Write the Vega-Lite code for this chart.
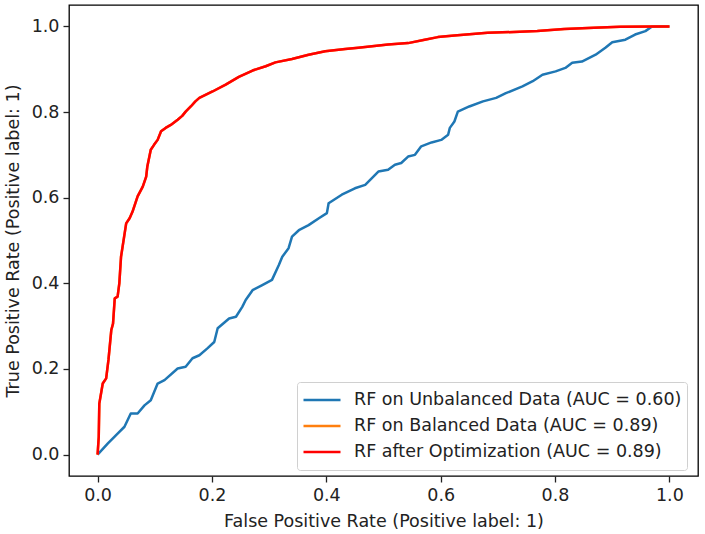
{
  "$schema": "https://vega.github.io/schema/vega-lite/v6.json",
  "width": 629,
  "height": 471,
  "autosize": {"type": "none"},
  "padding": {"left": 69, "top": 5, "right": 7, "bottom": 58},
  "background": "white",
  "config": {
    "font": "DejaVu Sans",
    "view": {"stroke": "black", "strokeWidth": 1.3},
    "axis": {
      "grid": false,
      "domain": false,
      "tickColor": "#222",
      "tickSize": 6,
      "tickWidth": 1.3,
      "labelFontSize": 17.5,
      "labelColor": "#222",
      "titleFontSize": 17.5,
      "titleFontWeight": "normal",
      "titleColor": "#222",
      "labelFlush": false,
      "labelOverlap": false
    }
  },
  "data": {
    "values": [
      {"model": "RF on Unbalanced Data (AUC = 0.60)", "fpr": 0.0, "tpr": 0.0},
      {"model": "RF on Unbalanced Data (AUC = 0.60)", "fpr": 0.018, "tpr": 0.026},
      {"model": "RF on Unbalanced Data (AUC = 0.60)", "fpr": 0.035, "tpr": 0.049},
      {"model": "RF on Unbalanced Data (AUC = 0.60)", "fpr": 0.047, "tpr": 0.065},
      {"model": "RF on Unbalanced Data (AUC = 0.60)", "fpr": 0.058, "tpr": 0.096},
      {"model": "RF on Unbalanced Data (AUC = 0.60)", "fpr": 0.07, "tpr": 0.096},
      {"model": "RF on Unbalanced Data (AUC = 0.60)", "fpr": 0.082, "tpr": 0.115},
      {"model": "RF on Unbalanced Data (AUC = 0.60)", "fpr": 0.093, "tpr": 0.127},
      {"model": "RF on Unbalanced Data (AUC = 0.60)", "fpr": 0.105, "tpr": 0.166},
      {"model": "RF on Unbalanced Data (AUC = 0.60)", "fpr": 0.117, "tpr": 0.174},
      {"model": "RF on Unbalanced Data (AUC = 0.60)", "fpr": 0.14, "tpr": 0.201},
      {"model": "RF on Unbalanced Data (AUC = 0.60)", "fpr": 0.154, "tpr": 0.205},
      {"model": "RF on Unbalanced Data (AUC = 0.60)", "fpr": 0.166, "tpr": 0.225},
      {"model": "RF on Unbalanced Data (AUC = 0.60)", "fpr": 0.178, "tpr": 0.232},
      {"model": "RF on Unbalanced Data (AUC = 0.60)", "fpr": 0.192, "tpr": 0.248},
      {"model": "RF on Unbalanced Data (AUC = 0.60)", "fpr": 0.204, "tpr": 0.263},
      {"model": "RF on Unbalanced Data (AUC = 0.60)", "fpr": 0.21, "tpr": 0.295},
      {"model": "RF on Unbalanced Data (AUC = 0.60)", "fpr": 0.23, "tpr": 0.318},
      {"model": "RF on Unbalanced Data (AUC = 0.60)", "fpr": 0.242, "tpr": 0.322},
      {"model": "RF on Unbalanced Data (AUC = 0.60)", "fpr": 0.253, "tpr": 0.345},
      {"model": "RF on Unbalanced Data (AUC = 0.60)", "fpr": 0.259, "tpr": 0.361},
      {"model": "RF on Unbalanced Data (AUC = 0.60)", "fpr": 0.271, "tpr": 0.384},
      {"model": "RF on Unbalanced Data (AUC = 0.60)", "fpr": 0.288, "tpr": 0.396},
      {"model": "RF on Unbalanced Data (AUC = 0.60)", "fpr": 0.305, "tpr": 0.408},
      {"model": "RF on Unbalanced Data (AUC = 0.60)", "fpr": 0.317, "tpr": 0.443},
      {"model": "RF on Unbalanced Data (AUC = 0.60)", "fpr": 0.323, "tpr": 0.462},
      {"model": "RF on Unbalanced Data (AUC = 0.60)", "fpr": 0.334, "tpr": 0.482},
      {"model": "RF on Unbalanced Data (AUC = 0.60)", "fpr": 0.34, "tpr": 0.509},
      {"model": "RF on Unbalanced Data (AUC = 0.60)", "fpr": 0.352, "tpr": 0.524},
      {"model": "RF on Unbalanced Data (AUC = 0.60)", "fpr": 0.369, "tpr": 0.536},
      {"model": "RF on Unbalanced Data (AUC = 0.60)", "fpr": 0.387, "tpr": 0.552},
      {"model": "RF on Unbalanced Data (AUC = 0.60)", "fpr": 0.401, "tpr": 0.564},
      {"model": "RF on Unbalanced Data (AUC = 0.60)", "fpr": 0.404, "tpr": 0.587},
      {"model": "RF on Unbalanced Data (AUC = 0.60)", "fpr": 0.427, "tpr": 0.607},
      {"model": "RF on Unbalanced Data (AUC = 0.60)", "fpr": 0.45, "tpr": 0.622},
      {"model": "RF on Unbalanced Data (AUC = 0.60)", "fpr": 0.468, "tpr": 0.63},
      {"model": "RF on Unbalanced Data (AUC = 0.60)", "fpr": 0.491, "tpr": 0.661},
      {"model": "RF on Unbalanced Data (AUC = 0.60)", "fpr": 0.508, "tpr": 0.665},
      {"model": "RF on Unbalanced Data (AUC = 0.60)", "fpr": 0.52, "tpr": 0.677},
      {"model": "RF on Unbalanced Data (AUC = 0.60)", "fpr": 0.531, "tpr": 0.681},
      {"model": "RF on Unbalanced Data (AUC = 0.60)", "fpr": 0.543, "tpr": 0.696},
      {"model": "RF on Unbalanced Data (AUC = 0.60)", "fpr": 0.555, "tpr": 0.7},
      {"model": "RF on Unbalanced Data (AUC = 0.60)", "fpr": 0.566, "tpr": 0.72},
      {"model": "RF on Unbalanced Data (AUC = 0.60)", "fpr": 0.584, "tpr": 0.729},
      {"model": "RF on Unbalanced Data (AUC = 0.60)", "fpr": 0.601, "tpr": 0.735},
      {"model": "RF on Unbalanced Data (AUC = 0.60)", "fpr": 0.613, "tpr": 0.747},
      {"model": "RF on Unbalanced Data (AUC = 0.60)", "fpr": 0.616, "tpr": 0.763},
      {"model": "RF on Unbalanced Data (AUC = 0.60)", "fpr": 0.624, "tpr": 0.778},
      {"model": "RF on Unbalanced Data (AUC = 0.60)", "fpr": 0.63, "tpr": 0.801},
      {"model": "RF on Unbalanced Data (AUC = 0.60)", "fpr": 0.65, "tpr": 0.813},
      {"model": "RF on Unbalanced Data (AUC = 0.60)", "fpr": 0.674, "tpr": 0.825},
      {"model": "RF on Unbalanced Data (AUC = 0.60)", "fpr": 0.697, "tpr": 0.833},
      {"model": "RF on Unbalanced Data (AUC = 0.60)", "fpr": 0.714, "tpr": 0.844},
      {"model": "RF on Unbalanced Data (AUC = 0.60)", "fpr": 0.743, "tpr": 0.86},
      {"model": "RF on Unbalanced Data (AUC = 0.60)", "fpr": 0.761, "tpr": 0.872},
      {"model": "RF on Unbalanced Data (AUC = 0.60)", "fpr": 0.778, "tpr": 0.887},
      {"model": "RF on Unbalanced Data (AUC = 0.60)", "fpr": 0.801, "tpr": 0.895},
      {"model": "RF on Unbalanced Data (AUC = 0.60)", "fpr": 0.818, "tpr": 0.903},
      {"model": "RF on Unbalanced Data (AUC = 0.60)", "fpr": 0.83, "tpr": 0.915},
      {"model": "RF on Unbalanced Data (AUC = 0.60)", "fpr": 0.847, "tpr": 0.918},
      {"model": "RF on Unbalanced Data (AUC = 0.60)", "fpr": 0.871, "tpr": 0.934},
      {"model": "RF on Unbalanced Data (AUC = 0.60)", "fpr": 0.888, "tpr": 0.95},
      {"model": "RF on Unbalanced Data (AUC = 0.60)", "fpr": 0.9, "tpr": 0.963},
      {"model": "RF on Unbalanced Data (AUC = 0.60)", "fpr": 0.923, "tpr": 0.969},
      {"model": "RF on Unbalanced Data (AUC = 0.60)", "fpr": 0.94, "tpr": 0.981},
      {"model": "RF on Unbalanced Data (AUC = 0.60)", "fpr": 0.958, "tpr": 0.989},
      {"model": "RF on Unbalanced Data (AUC = 0.60)", "fpr": 0.969, "tpr": 0.999},
      {"model": "RF on Unbalanced Data (AUC = 0.60)", "fpr": 0.987, "tpr": 1.0},
      {"model": "RF on Unbalanced Data (AUC = 0.60)", "fpr": 1.0, "tpr": 1.0},

      {"model": "RF on Balanced Data (AUC = 0.89)", "fpr": 0.0, "tpr": 0.0},
      {"model": "RF on Balanced Data (AUC = 0.89)", "fpr": 0.002, "tpr": 0.041},
      {"model": "RF on Balanced Data (AUC = 0.89)", "fpr": 0.003, "tpr": 0.119},
      {"model": "RF on Balanced Data (AUC = 0.89)", "fpr": 0.009, "tpr": 0.166},
      {"model": "RF on Balanced Data (AUC = 0.89)", "fpr": 0.015, "tpr": 0.178},
      {"model": "RF on Balanced Data (AUC = 0.89)", "fpr": 0.019, "tpr": 0.221},
      {"model": "RF on Balanced Data (AUC = 0.89)", "fpr": 0.024, "tpr": 0.291},
      {"model": "RF on Balanced Data (AUC = 0.89)", "fpr": 0.027, "tpr": 0.306},
      {"model": "RF on Balanced Data (AUC = 0.89)", "fpr": 0.03, "tpr": 0.365},
      {"model": "RF on Balanced Data (AUC = 0.89)", "fpr": 0.035, "tpr": 0.369},
      {"model": "RF on Balanced Data (AUC = 0.89)", "fpr": 0.038, "tpr": 0.4},
      {"model": "RF on Balanced Data (AUC = 0.89)", "fpr": 0.041, "tpr": 0.462},
      {"model": "RF on Balanced Data (AUC = 0.89)", "fpr": 0.05, "tpr": 0.54},
      {"model": "RF on Balanced Data (AUC = 0.89)", "fpr": 0.056, "tpr": 0.552},
      {"model": "RF on Balanced Data (AUC = 0.89)", "fpr": 0.061, "tpr": 0.567},
      {"model": "RF on Balanced Data (AUC = 0.89)", "fpr": 0.07, "tpr": 0.603},
      {"model": "RF on Balanced Data (AUC = 0.89)", "fpr": 0.079, "tpr": 0.626},
      {"model": "RF on Balanced Data (AUC = 0.89)", "fpr": 0.085, "tpr": 0.649},
      {"model": "RF on Balanced Data (AUC = 0.89)", "fpr": 0.087, "tpr": 0.673},
      {"model": "RF on Balanced Data (AUC = 0.89)", "fpr": 0.093, "tpr": 0.712},
      {"model": "RF on Balanced Data (AUC = 0.89)", "fpr": 0.099, "tpr": 0.724},
      {"model": "RF on Balanced Data (AUC = 0.89)", "fpr": 0.105, "tpr": 0.735},
      {"model": "RF on Balanced Data (AUC = 0.89)", "fpr": 0.111, "tpr": 0.755},
      {"model": "RF on Balanced Data (AUC = 0.89)", "fpr": 0.119, "tpr": 0.763},
      {"model": "RF on Balanced Data (AUC = 0.89)", "fpr": 0.128, "tpr": 0.77},
      {"model": "RF on Balanced Data (AUC = 0.89)", "fpr": 0.14, "tpr": 0.782},
      {"model": "RF on Balanced Data (AUC = 0.89)", "fpr": 0.148, "tpr": 0.791},
      {"model": "RF on Balanced Data (AUC = 0.89)", "fpr": 0.154, "tpr": 0.801},
      {"model": "RF on Balanced Data (AUC = 0.89)", "fpr": 0.163, "tpr": 0.813},
      {"model": "RF on Balanced Data (AUC = 0.89)", "fpr": 0.171, "tpr": 0.825},
      {"model": "RF on Balanced Data (AUC = 0.89)", "fpr": 0.178, "tpr": 0.833},
      {"model": "RF on Balanced Data (AUC = 0.89)", "fpr": 0.201, "tpr": 0.848},
      {"model": "RF on Balanced Data (AUC = 0.89)", "fpr": 0.224, "tpr": 0.864},
      {"model": "RF on Balanced Data (AUC = 0.89)", "fpr": 0.247, "tpr": 0.882},
      {"model": "RF on Balanced Data (AUC = 0.89)", "fpr": 0.271, "tpr": 0.897},
      {"model": "RF on Balanced Data (AUC = 0.89)", "fpr": 0.294, "tpr": 0.907},
      {"model": "RF on Balanced Data (AUC = 0.89)", "fpr": 0.311, "tpr": 0.916},
      {"model": "RF on Balanced Data (AUC = 0.89)", "fpr": 0.34, "tpr": 0.924},
      {"model": "RF on Balanced Data (AUC = 0.89)", "fpr": 0.369, "tpr": 0.934},
      {"model": "RF on Balanced Data (AUC = 0.89)", "fpr": 0.398, "tpr": 0.942},
      {"model": "RF on Balanced Data (AUC = 0.89)", "fpr": 0.433, "tpr": 0.947},
      {"model": "RF on Balanced Data (AUC = 0.89)", "fpr": 0.456, "tpr": 0.95},
      {"model": "RF on Balanced Data (AUC = 0.89)", "fpr": 0.508, "tpr": 0.958},
      {"model": "RF on Balanced Data (AUC = 0.89)", "fpr": 0.543, "tpr": 0.961},
      {"model": "RF on Balanced Data (AUC = 0.89)", "fpr": 0.572, "tpr": 0.969},
      {"model": "RF on Balanced Data (AUC = 0.89)", "fpr": 0.595, "tpr": 0.975},
      {"model": "RF on Balanced Data (AUC = 0.89)", "fpr": 0.624, "tpr": 0.979},
      {"model": "RF on Balanced Data (AUC = 0.89)", "fpr": 0.682, "tpr": 0.985},
      {"model": "RF on Balanced Data (AUC = 0.89)", "fpr": 0.769, "tpr": 0.989},
      {"model": "RF on Balanced Data (AUC = 0.89)", "fpr": 0.816, "tpr": 0.994},
      {"model": "RF on Balanced Data (AUC = 0.89)", "fpr": 0.868, "tpr": 0.997},
      {"model": "RF on Balanced Data (AUC = 0.89)", "fpr": 0.914, "tpr": 0.999},
      {"model": "RF on Balanced Data (AUC = 0.89)", "fpr": 0.975, "tpr": 1.0},
      {"model": "RF on Balanced Data (AUC = 0.89)", "fpr": 1.0, "tpr": 1.0},

      {"model": "RF after Optimization (AUC = 0.89)", "fpr": 0.0, "tpr": 0.0},
      {"model": "RF after Optimization (AUC = 0.89)", "fpr": 0.002, "tpr": 0.041},
      {"model": "RF after Optimization (AUC = 0.89)", "fpr": 0.003, "tpr": 0.119},
      {"model": "RF after Optimization (AUC = 0.89)", "fpr": 0.009, "tpr": 0.166},
      {"model": "RF after Optimization (AUC = 0.89)", "fpr": 0.015, "tpr": 0.178},
      {"model": "RF after Optimization (AUC = 0.89)", "fpr": 0.019, "tpr": 0.221},
      {"model": "RF after Optimization (AUC = 0.89)", "fpr": 0.024, "tpr": 0.291},
      {"model": "RF after Optimization (AUC = 0.89)", "fpr": 0.027, "tpr": 0.306},
      {"model": "RF after Optimization (AUC = 0.89)", "fpr": 0.03, "tpr": 0.365},
      {"model": "RF after Optimization (AUC = 0.89)", "fpr": 0.035, "tpr": 0.369},
      {"model": "RF after Optimization (AUC = 0.89)", "fpr": 0.038, "tpr": 0.4},
      {"model": "RF after Optimization (AUC = 0.89)", "fpr": 0.041, "tpr": 0.462},
      {"model": "RF after Optimization (AUC = 0.89)", "fpr": 0.05, "tpr": 0.54},
      {"model": "RF after Optimization (AUC = 0.89)", "fpr": 0.056, "tpr": 0.552},
      {"model": "RF after Optimization (AUC = 0.89)", "fpr": 0.061, "tpr": 0.567},
      {"model": "RF after Optimization (AUC = 0.89)", "fpr": 0.07, "tpr": 0.603},
      {"model": "RF after Optimization (AUC = 0.89)", "fpr": 0.079, "tpr": 0.626},
      {"model": "RF after Optimization (AUC = 0.89)", "fpr": 0.085, "tpr": 0.649},
      {"model": "RF after Optimization (AUC = 0.89)", "fpr": 0.087, "tpr": 0.673},
      {"model": "RF after Optimization (AUC = 0.89)", "fpr": 0.093, "tpr": 0.712},
      {"model": "RF after Optimization (AUC = 0.89)", "fpr": 0.099, "tpr": 0.724},
      {"model": "RF after Optimization (AUC = 0.89)", "fpr": 0.105, "tpr": 0.735},
      {"model": "RF after Optimization (AUC = 0.89)", "fpr": 0.111, "tpr": 0.755},
      {"model": "RF after Optimization (AUC = 0.89)", "fpr": 0.119, "tpr": 0.763},
      {"model": "RF after Optimization (AUC = 0.89)", "fpr": 0.128, "tpr": 0.77},
      {"model": "RF after Optimization (AUC = 0.89)", "fpr": 0.14, "tpr": 0.782},
      {"model": "RF after Optimization (AUC = 0.89)", "fpr": 0.148, "tpr": 0.791},
      {"model": "RF after Optimization (AUC = 0.89)", "fpr": 0.154, "tpr": 0.801},
      {"model": "RF after Optimization (AUC = 0.89)", "fpr": 0.163, "tpr": 0.813},
      {"model": "RF after Optimization (AUC = 0.89)", "fpr": 0.171, "tpr": 0.825},
      {"model": "RF after Optimization (AUC = 0.89)", "fpr": 0.178, "tpr": 0.833},
      {"model": "RF after Optimization (AUC = 0.89)", "fpr": 0.201, "tpr": 0.848},
      {"model": "RF after Optimization (AUC = 0.89)", "fpr": 0.224, "tpr": 0.864},
      {"model": "RF after Optimization (AUC = 0.89)", "fpr": 0.247, "tpr": 0.882},
      {"model": "RF after Optimization (AUC = 0.89)", "fpr": 0.271, "tpr": 0.897},
      {"model": "RF after Optimization (AUC = 0.89)", "fpr": 0.294, "tpr": 0.907},
      {"model": "RF after Optimization (AUC = 0.89)", "fpr": 0.311, "tpr": 0.916},
      {"model": "RF after Optimization (AUC = 0.89)", "fpr": 0.34, "tpr": 0.924},
      {"model": "RF after Optimization (AUC = 0.89)", "fpr": 0.369, "tpr": 0.934},
      {"model": "RF after Optimization (AUC = 0.89)", "fpr": 0.398, "tpr": 0.942},
      {"model": "RF after Optimization (AUC = 0.89)", "fpr": 0.433, "tpr": 0.947},
      {"model": "RF after Optimization (AUC = 0.89)", "fpr": 0.456, "tpr": 0.95},
      {"model": "RF after Optimization (AUC = 0.89)", "fpr": 0.508, "tpr": 0.958},
      {"model": "RF after Optimization (AUC = 0.89)", "fpr": 0.543, "tpr": 0.961},
      {"model": "RF after Optimization (AUC = 0.89)", "fpr": 0.572, "tpr": 0.969},
      {"model": "RF after Optimization (AUC = 0.89)", "fpr": 0.595, "tpr": 0.975},
      {"model": "RF after Optimization (AUC = 0.89)", "fpr": 0.624, "tpr": 0.979},
      {"model": "RF after Optimization (AUC = 0.89)", "fpr": 0.682, "tpr": 0.985},
      {"model": "RF after Optimization (AUC = 0.89)", "fpr": 0.769, "tpr": 0.989},
      {"model": "RF after Optimization (AUC = 0.89)", "fpr": 0.816, "tpr": 0.994},
      {"model": "RF after Optimization (AUC = 0.89)", "fpr": 0.868, "tpr": 0.997},
      {"model": "RF after Optimization (AUC = 0.89)", "fpr": 0.914, "tpr": 0.999},
      {"model": "RF after Optimization (AUC = 0.89)", "fpr": 0.975, "tpr": 1.0},
      {"model": "RF after Optimization (AUC = 0.89)", "fpr": 1.0, "tpr": 1.0}
    ]
  },
  "mark": {"type": "line", "strokeWidth": 2.5, "strokeJoin": "round", "clip": true},
  "encoding": {
    "x": {
      "field": "fpr",
      "type": "quantitative",
      "scale": {"domain": [-0.05, 1.05], "nice": false, "zero": false},
      "axis": {
        "title": "False Positive Rate (Positive label: 1)",
        "values": [0, 0.2, 0.4, 0.6, 0.8, 1.0],
        "format": ".1f",
        "labelPadding": 4,
        "titlePadding": 9
      }
    },
    "y": {
      "field": "tpr",
      "type": "quantitative",
      "scale": {"domain": [-0.05, 1.05], "nice": false, "zero": false},
      "axis": {
        "title": "True Positive Rate (Positive label: 1)",
        "values": [0, 0.2, 0.4, 0.6, 0.8, 1.0],
        "format": ".1f",
        "labelPadding": 4,
        "titlePadding": 9
      }
    },
    "color": {
      "field": "model",
      "type": "nominal",
      "sort": null,
      "scale": {
        "domain": ["RF on Unbalanced Data (AUC = 0.60)", "RF on Balanced Data (AUC = 0.89)", "RF after Optimization (AUC = 0.89)"],
        "range": ["#1f77b4", "#ff7f0e", "#ff0000"]
      },
      "legend": {
        "title": null,
        "orient": "none",
        "legendX": 228,
        "legendY": 377,
        "symbolType": "stroke",
        "symbolSize": 1369,
        "symbolStrokeWidth": 2.5,
        "clipHeight": 26,
        "rowPadding": 0,
        "labelOffset": 12,
        "labelFontSize": 17.5,
        "labelColor": "#222",
        "labelLimit": 0,
        "padding": 5,
        "fillColor": "white",
        "strokeColor": "#d0d0d0",
        "cornerRadius": 3
      }
    }
  }
}
